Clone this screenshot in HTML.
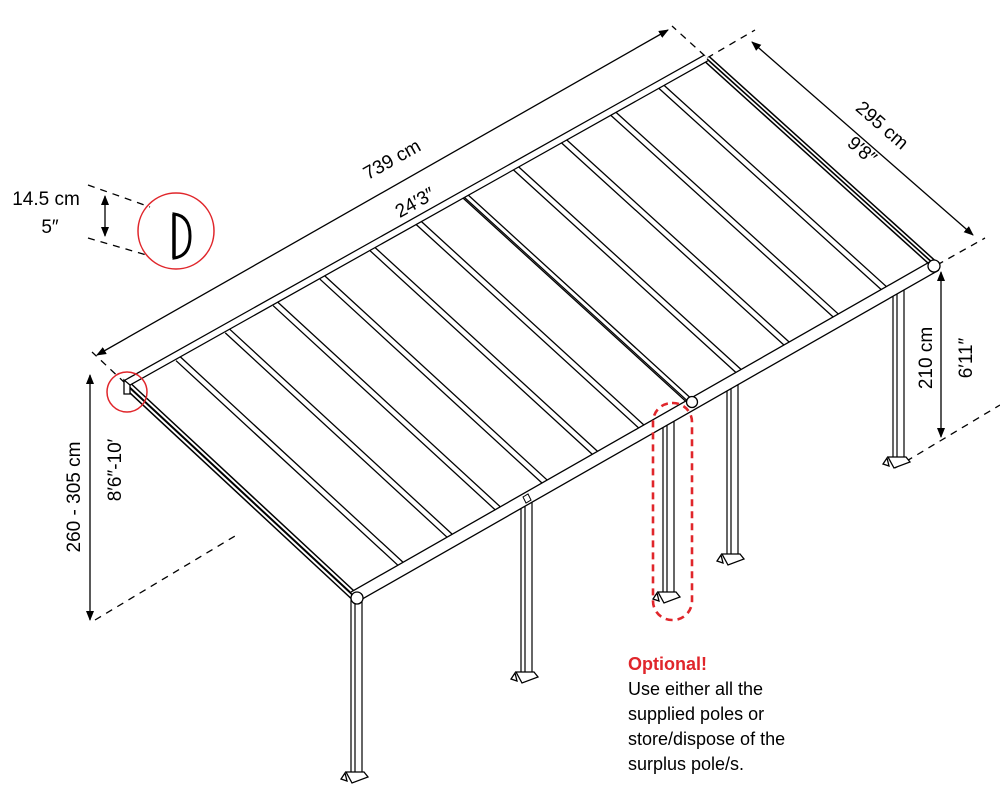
<!DOCTYPE html>
<html><head><meta charset="utf-8"><style>
html,body{margin:0;padding:0;background:#fff;}
svg{display:block;font-family:"Liberation Sans",sans-serif;}
</style></head><body>
<svg width="1000" height="800" viewBox="0 0 1000 800" xmlns="http://www.w3.org/2000/svg">
<defs>
<marker id="ar" markerWidth="10" markerHeight="10" refX="9" refY="5" orient="auto-start-reverse" markerUnits="userSpaceOnUse">
<path d="M0,1 L10,5 L0,9 Z" fill="#000"/></marker>
</defs>
<!-- dashed extension lines -->
<g stroke="#000" stroke-width="1.3" stroke-dasharray="7,6" fill="none">
<line x1="125" y1="383" x2="92" y2="352"/>
<line x1="705" y1="56" x2="672" y2="26"/>
<line x1="707" y1="58" x2="755" y2="30"/>
<line x1="937" y1="265" x2="985" y2="238"/>
<line x1="895" y1="468" x2="1000" y2="405"/>
<line x1="95" y1="620" x2="235" y2="536"/>
<line x1="88" y1="185" x2="150" y2="207"/>
<line x1="88" y1="238" x2="150" y2="256"/>
</g>
<!-- dimension arrows -->
<g stroke="#000" stroke-width="1.3" fill="none">
<line x1="97" y1="355" x2="668" y2="30" marker-start="url(#ar)" marker-end="url(#ar)"/>
<line x1="752" y1="42" x2="973" y2="235" marker-start="url(#ar)" marker-end="url(#ar)"/>
<line x1="941" y1="272" x2="941" y2="437" marker-start="url(#ar)" marker-end="url(#ar)"/>
<line x1="90" y1="375" x2="90" y2="620" marker-start="url(#ar)" marker-end="url(#ar)"/>
<line x1="105" y1="196" x2="105" y2="236" marker-start="url(#ar)" marker-end="url(#ar)"/>
</g>
<!-- posts -->
<g stroke="#000" stroke-width="1.2" fill="#fff">
<rect x="351" y="600" width="11" height="175"/><line x1="355" y1="600" x2="355" y2="775"/>
<rect x="521" y="500" width="11" height="175"/><line x1="525" y1="500" x2="525" y2="675"/>
<rect x="663" y="415" width="11" height="180"/><line x1="667" y1="415" x2="667" y2="595"/>
<rect x="727" y="382" width="11" height="175"/><line x1="731" y1="382" x2="731" y2="557"/>
<rect x="893" y="288" width="11" height="172"/><line x1="897" y1="288" x2="897" y2="460"/>
</g>
<g stroke="#000" stroke-width="1.3" fill="#fff">
<path d="M346,772 l18,0 l4,5 l-16,6 z"/><path d="M345,773 l-4,6 l6,2 z"/>
<path d="M516,672 l18,0 l4,5 l-16,6 z"/><path d="M515,673 l-4,6 l6,2 z"/>
<path d="M658,592 l18,0 l4,5 l-16,6 z"/><path d="M657,593 l-4,6 l6,2 z"/>
<path d="M722,554 l18,0 l4,5 l-16,6 z"/><path d="M721,555 l-4,6 l6,2 z"/>
<path d="M888,457 l18,0 l4,5 l-16,6 z"/><path d="M887,458 l-4,6 l6,2 z"/>
</g>
<!-- roof fill -->
<polygon points="125,383 706,56 936,265 355,597" fill="#fff"/>
<!-- rafters -->
<g stroke-linecap="butt">
<g stroke="#000" stroke-width="7">
<line x1="178" y1="358.6" x2="405.3" y2="568.2"/>
<line x1="227.2" y1="330.8" x2="454.4" y2="540.1"/>
<line x1="275.1" y1="303.6" x2="502.4" y2="512.6"/>
<line x1="321.9" y1="277.1" x2="549.2" y2="485.8"/>
<line x1="372.1" y1="248.7" x2="599.5" y2="457"/>
<line x1="418.2" y1="222.5" x2="645.7" y2="430.5"/>
<line x1="465" y1="196" x2="692.6" y2="403.7"/>
<line x1="515.2" y1="167.6" x2="742.8" y2="374.9"/>
<line x1="563" y1="140.4" x2="790.8" y2="347.4"/>
<line x1="612.1" y1="112.6" x2="839.9" y2="319.3"/>
<line x1="660" y1="85.5" x2="887.9" y2="291.8"/>
</g>
<g stroke="#fff" stroke-width="4.4">
<line x1="178" y1="358.6" x2="405.3" y2="568.2"/>
<line x1="227.2" y1="330.8" x2="454.4" y2="540.1"/>
<line x1="275.1" y1="303.6" x2="502.4" y2="512.6"/>
<line x1="321.9" y1="277.1" x2="549.2" y2="485.8"/>
<line x1="372.1" y1="248.7" x2="599.5" y2="457"/>
<line x1="418.2" y1="222.5" x2="645.7" y2="430.5"/>
<line x1="465" y1="196" x2="692.6" y2="403.7"/>
<line x1="515.2" y1="167.6" x2="742.8" y2="374.9"/>
<line x1="563" y1="140.4" x2="790.8" y2="347.4"/>
<line x1="612.1" y1="112.6" x2="839.9" y2="319.3"/>
<line x1="660" y1="85.5" x2="887.9" y2="291.8"/>
</g>
<line x1="465" y1="196" x2="692.6" y2="403.7" stroke="#000" stroke-width="1.2" transform="translate(-1,1)"/>
<!-- side rafters -->
<line x1="128" y1="386" x2="355" y2="597" stroke="#000" stroke-width="9"/>
<line x1="128" y1="386" x2="355" y2="597" stroke="#fff" stroke-width="6"/>
<line x1="128" y1="386" x2="355" y2="597" stroke="#000" stroke-width="2"/>
<line x1="707" y1="59" x2="935" y2="265" stroke="#000" stroke-width="8"/>
<line x1="707" y1="59" x2="935" y2="265" stroke="#fff" stroke-width="5"/>
<line x1="707" y1="59" x2="935" y2="265" stroke="#000" stroke-width="1.6"/>
<!-- back beam -->
<line x1="125" y1="384" x2="706" y2="58" stroke="#000" stroke-width="8"/>
<line x1="125" y1="384" x2="706" y2="58" stroke="#fff" stroke-width="5.5"/>
<!-- front beam -->
<line x1="354" y1="597" x2="936" y2="265" stroke="#000" stroke-width="13"/>
<line x1="354" y1="597" x2="936" y2="265" stroke="#fff" stroke-width="10.4"/>
</g>
<circle cx="357" cy="598" r="6" fill="#fff" stroke="#000" stroke-width="1.3"/>
<circle cx="934" cy="266" r="6" fill="#fff" stroke="#000" stroke-width="1.3"/>
<circle cx="692" cy="402" r="5.5" fill="#fff" stroke="#000" stroke-width="1.3"/>
<path d="M523,497 l5,-3 l3,6 l-5,3z" fill="#fff" stroke="#000" stroke-width="1"/>
<path d="M124,380 l0,14 l6,0 l0,-9z" fill="#fff" stroke="#000" stroke-width="1.3"/>
<!-- red marks -->
<circle cx="127" cy="392" r="20" fill="none" stroke="#e0262b" stroke-width="1.5"/>
<circle cx="176" cy="231" r="38" fill="none" stroke="#e0262b" stroke-width="1.5"/>
<rect x="653" y="403" width="39" height="217" rx="19" fill="none" stroke="#e0262b" stroke-width="2.6" stroke-dasharray="7,5"/>
<!-- detail D -->
<path d="M174,214 L174,258 Q190,256 190,236 Q190,216 174,214 Z" fill="none" stroke="#000" stroke-width="3"/>
<line x1="174" y1="214" x2="174" y2="258" stroke="#000" stroke-width="3.5"/>
<!-- labels -->
<g font-size="19" fill="#000">
<text x="395" y="165" text-anchor="middle" transform="rotate(-29.4 395 165)">739 cm</text>
<text x="418" y="208" text-anchor="middle" transform="rotate(-29.4 418 208)">24′3″</text>
<text x="878" y="130" text-anchor="middle" transform="rotate(41 878 130)">295 cm</text>
<text x="858" y="155" text-anchor="middle" transform="rotate(41 858 155)">9′8″</text>
<text x="932" y="358" text-anchor="middle" transform="rotate(-90 932 358)">210 cm</text>
<text x="972" y="358" text-anchor="middle" transform="rotate(-90 972 358)">6′11″</text>
<text x="80" y="497" text-anchor="middle" transform="rotate(-90 80 497)">260 - 305 cm</text>
<text x="121" y="470" text-anchor="middle" transform="rotate(-90 121 470)">8′6″-10′</text>
<text x="46" y="205" text-anchor="middle">14.5 cm</text>
<text x="50" y="233" text-anchor="middle">5″</text>
</g>
<g font-size="18" fill="#000">
<text x="628" y="670" fill="#e0262b" font-weight="bold">Optional!</text>
<text x="628" y="695">Use either all the</text>
<text x="628" y="720">supplied poles or</text>
<text x="628" y="745">store/dispose of the</text>
<text x="628" y="770">surplus pole/s.</text>
</g>
</svg>
</body></html>
